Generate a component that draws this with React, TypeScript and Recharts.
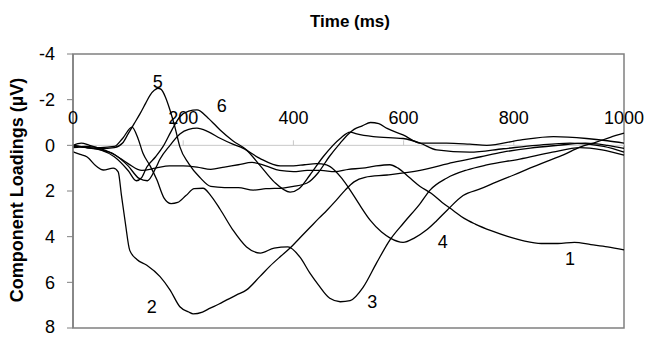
import { LineChart, Line, XAxis, YAxis, ReferenceLine, ReferenceArea, ReferenceDot } from 'recharts';

// time axis (ms) and loadings (µV), one pair of arrays per component
const curve1T = [0, 15, 30, 50, 75, 100, 125, 150, 175, 200, 225, 250, 275, 300, 325, 350, 375, 400, 425, 450, 475, 500, 525, 550, 575, 590, 610, 630, 650, 670, 690, 710, 730, 760, 790, 820, 850, 880, 910, 940, 970, 1000];
const curve1V = [0, -0.1, 0, 0.15, 0.4, 0.8, 1.1, 1.0, 0.9, 0.9, 0.95, 1.05, 0.95, 0.85, 0.75, 0.9, 1.1, 1.15, 1.1, 1.1, 1.15, 1.05, 1.0, 0.9, 0.85, 1.0, 1.4, 1.8, 2.1, 2.5, 2.85, 3.2, 3.45, 3.75, 4.0, 4.2, 4.3, 4.3, 4.25, 4.35, 4.45, 4.58];

const curve2T = [0, 13, 25, 43, 55, 73, 82, 88, 95, 103, 116, 134, 158, 176, 194, 210, 218, 235, 249, 265, 279, 297, 315, 339, 357, 375, 394, 412, 430, 446, 461, 478, 494, 510, 530, 570, 630, 690, 740, 780, 830, 880, 930, 970, 1000];
const curve2V = [0.28, 0.4, 0.5, 0.93, 1.08, 1.0, 1.16, 2.2, 3.4, 4.6, 5.0, 5.25, 5.75, 6.33, 7.07, 7.3, 7.38, 7.3, 7.13, 6.95, 6.77, 6.55, 6.33, 5.75, 5.3, 4.9, 4.5, 4.05, 3.6, 3.2, 2.84, 2.4, 1.96, 1.6, 1.4, 1.3, 1.1, 0.75, 0.5, 0.3, 0.12, 0, -0.1, 0, 0.13];

const curve3T = [0, 25, 50, 75, 90, 107, 118, 127, 140, 152, 165, 178, 190, 205, 220, 236, 250, 267, 290, 315, 340, 365, 390, 412, 430, 445, 466, 485, 503, 527, 551, 575, 600, 630, 648, 678, 715, 751, 811, 870, 920, 960, 1000];
const curve3V = [0.1, 0.05, 0.1, 0.05, -0.3, -0.8, -0.3, 0.35, 0.9, 1.5, 2.3, 2.55, 2.5, 2.2, 1.9, 1.88, 2.2, 2.8, 3.7, 4.45, 4.72, 4.5, 4.45, 4.9, 5.6, 6.1, 6.7, 6.85, 6.8, 6.2, 5.15, 4.15, 3.4, 2.55, 1.96, 1.44, 1.08, 0.86, 0.6, 0.3, 0.1, 0.2, 0.43];

const curve4T = [0, 25, 50, 75, 100, 120, 135, 150, 158, 176, 194, 210, 225, 245, 267, 290, 309, 339, 376, 400, 420, 442, 460, 475, 488, 503, 520, 540, 560, 575, 599, 620, 642, 660, 679, 708, 740, 769, 800, 829, 860, 890, 920, 951, 975, 1000];
const curve4V = [0, 0.1, 0.2, 0.4, 0.9, 1.45, 1.55, 1.0, 0.6, 0, -0.5, -0.7, -0.75, -0.6, -0.31, -0.05, 0.13, 0.57, 0.9, 0.9, 0.85, 0.8, 0.86, 1.1, 1.45, 1.96, 2.6, 3.3, 3.8, 4.05, 4.25, 4.05, 3.7, 3.3, 2.84, 2.2, 1.9, 1.6, 1.3, 1.0, 0.7, 0.42, 0.08, -0.15, -0.35, -0.53];

const curve5T = [0, 25, 50, 75, 90, 100, 111, 122, 132, 140, 148, 154, 160, 168, 176, 185, 194, 210, 230, 250, 275, 300, 327, 350, 381, 400, 425, 445, 465, 485, 500, 510, 525, 540, 555, 570, 599, 630, 678, 720, 751, 811, 872, 932, 970, 1000];
const curve5V = [0, 0.1, 0.15, 0.1, -0.1, -0.5, -0.95, -1.4, -1.85, -2.2, -2.42, -2.5, -2.45, -2.1, -1.55, -0.8, 0.07, 0.8, 1.4, 1.8, 1.85, 1.85, 1.96, 1.9, 1.87, 1.8, 1.65, 1.2, 0.5, -0.1, -0.5, -0.7, -0.85, -1.0, -0.95, -0.74, -0.46, -0.1, -0.1, -0.05, 0, -0.23, -0.38, -0.3, -0.2, -0.1];

const curve6T = [0, 25, 50, 75, 100, 115, 125, 134, 150, 163, 180, 194, 210, 225, 245, 267, 290, 315, 340, 365, 394, 410, 430, 454, 485, 503, 515, 545, 599, 630, 660, 720, 781, 841, 902, 963, 1000];
const curve6V = [0.05, 0.1, 0.2, 0.5, 1.1, 1.55, 1.4, 0.95, 0.5, 0.07, -0.7, -1.25, -1.5, -1.55, -1.2, -0.67, -0.2, 0.2, 0.9, 1.6, 2.05, 1.9, 1.3, 0.5, -0.3, -0.58, -0.5, -0.38, -0.3, -0.1, 0.2, 0.3, 0.15, 0, -0.1, 0.05, 0.3];

const xTicks = [0, 200, 400, 600, 800, 1000];
const yTicks = [-4, -2, 0, 2, 4, 6, 8];

// where the component numbers sit (time, loading)
const labelNames = ['1', '2', '3', '4', '5', '6'];
const labelT = [902, 143, 543, 671, 154, 270];
const labelV = [4.98, 7.08, 6.86, 4.23, -2.81, -1.72];

const curves = [
  { t: curve1T, v: curve1V },
  { t: curve2T, v: curve2V },
  { t: curve3T, v: curve3V },
  { t: curve4T, v: curve4V },
  { t: curve5T, v: curve5V },
  { t: curve6T, v: curve6V },
];

const FONT = '"Liberation Sans", Arial, sans-serif';

export default function App() {
  return (
    <div style={{ position: 'absolute', left: 0, top: 0, width: 649, height: 337, background: '#fff', fontFamily: FONT }}>
      <div style={{ position: 'absolute', left: 350, top: 22, transform: 'translate(-50%, -50%)', fontWeight: 'bold', fontSize: 17, whiteSpace: 'nowrap' }}>
        Time (ms)
      </div>
      <div style={{ position: 'absolute', left: 17, top: 190, transform: 'translate(-50%, -50%) rotate(-90deg)', fontWeight: 'bold', fontSize: 18, whiteSpace: 'nowrap' }}>
        Component Loadings (µV)
      </div>
      <LineChart width={649} height={337} margin={{ top: 54, right: 25, bottom: 9, left: 0 }}>
        <XAxis type="number" dataKey="t" domain={[0, 1000]} hide allowDuplicatedCategory={false} />
        <YAxis
          type="number"
          domain={[-4, 8]}
          ticks={yTicks}
          reversed
          width={73}
          tickSize={6}
          tickMargin={12}
          axisLine={{ stroke: '#808080', strokeWidth: 1.5 }}
          tickLine={{ stroke: '#808080' }}
          tick={{ fontSize: 18, fill: '#000', fontFamily: FONT }}
        />
        <ReferenceArea x1={0} x2={1000} y1={-4} y2={8} fill="none" stroke="#808080" strokeWidth={1.5} />
        <ReferenceLine y={0} stroke="#c8c8c8" />
        {xTicks.map((t) => (
          <ReferenceLine
            key={t}
            segment={[{ x: t, y: 0 }, { x: t, y: -0.22 }]}
            stroke="#c8c8c8"
            label={{ value: String(t), position: 'top', offset: 16, fontSize: 18, fill: '#000', fontFamily: FONT }}
          />
        ))}
        {curves.map((c, i) => (
          <Line
            key={i}
            data={c.t.map((t, j) => ({ t, v: c.v[j] }))}
            dataKey="v"
            type="monotone"
            stroke="#000"
            strokeWidth={1.3}
            dot={false}
            isAnimationActive={false}
          />
        ))}
        {labelNames.map((name, i) => (
          <ReferenceDot
            key={name}
            x={labelT[i]}
            y={labelV[i]}
            r={0}
            fill="none"
            stroke="none"
            label={{ value: name, position: 'center', fontSize: 18, fill: '#000', fontFamily: FONT }}
          />
        ))}
      </LineChart>
    </div>
  );
}
